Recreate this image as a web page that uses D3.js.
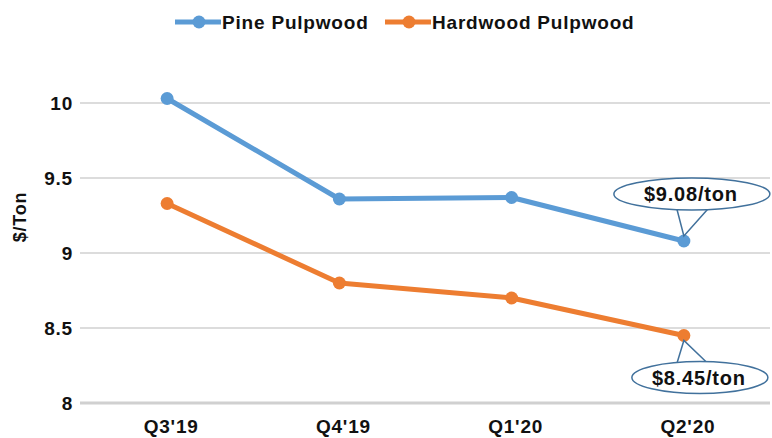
<!DOCTYPE html>
<html>
<head>
<meta charset="utf-8">
<script src="https://cdn.jsdelivr.net/npm/d3@7"></script>
<style>
  html, body { margin: 0; padding: 0; background: #fff; }
  svg text { font-family: "Liberation Sans", Arial, sans-serif; font-weight: bold; fill: #111; letter-spacing: 0.8px; }
</style>
</head>
<body>
<div id="chart"></div>
<script>
const categories = ["Q3'19", "Q4'19", "Q1'20", "Q2'20"];
const pine = [10.03, 9.36, 9.37, 9.08];
const hardwood = [9.33, 8.80, 8.70, 8.45];
const yTicks = [8, 8.5, 9, 9.5, 10];
const seriesNames = ["Pine Pulpwood", "Hardwood Pulpwood"];
const colors = ["#5b9bd5", "#ed7d31"];

const width = 772, height = 438;

const svg = d3.select('#chart').append('svg')
  .attr('width', width)
  .attr('height', height);

// scales
const x = d3.scaleBand().domain(categories).range([81, 770]);
const cx = d => x(d) + x.bandwidth() / 2;
const y = d3.scaleLinear().domain([8, 10]).range([403, 103]);

// gridlines
svg.append('g')
  .selectAll('line')
  .data(yTicks)
  .enter().append('line')
  .attr('x1', 80).attr('x2', 770)
  .attr('y1', d => y(d)).attr('y2', d => y(d))
  .attr('stroke', d => d === 8 ? '#d0d0d0' : '#dcdcdc')
  .attr('stroke-width', d => d === 8 ? 3 : 2);

// y axis
const yAxis = svg.append('g')
  .attr('transform', 'translate(73,0)')
  .call(d3.axisLeft(y).tickValues(yTicks).tickSize(0).tickPadding(0).tickFormat(d3.format('')));
yAxis.select('.domain').remove();
yAxis.selectAll('text')
  .style('font-size', '19px')
  .style('font-family', '"Liberation Sans", Arial, sans-serif')
  .attr('dy', '0.36em');

svg.append('text')
  .attr('transform', 'translate(26,217) rotate(-90)')
  .attr('text-anchor', 'middle')
  .style('font-size', '18px')
  .text('$/Ton');

// x axis
const xAxis = svg.append('g')
  .attr('transform', 'translate(4,419)')
  .call(d3.axisBottom(x).tickSize(0).tickPadding(0));
xAxis.select('.domain').remove();
xAxis.selectAll('text')
  .style('font-size', '19px')
  .style('font-family', '"Liberation Sans", Arial, sans-serif')
  .attr('dy', '0.71em');

// lines
const series = [pine, hardwood];
const line = d3.line()
  .x((d, i) => cx(categories[i]))
  .y(d => y(d));

series.forEach((vals, s) => {
  svg.append('path')
    .datum(vals)
    .attr('fill', 'none')
    .attr('stroke', colors[s])
    .attr('stroke-width', 5)
    .attr('stroke-linejoin', 'round')
    .attr('d', line);
  svg.append('g')
    .selectAll('circle')
    .data(vals)
    .enter().append('circle')
    .attr('cx', (d, i) => cx(categories[i]))
    .attr('cy', d => y(d))
    .attr('r', 6.5)
    .attr('fill', colors[s]);
});

// legend
const legendX = [175, 385];
seriesNames.forEach((name, s) => {
  const g = svg.append('g').attr('transform', `translate(${legendX[s]},22)`);
  g.append('line').attr('x1', 0).attr('x2', 46)
    .attr('stroke', colors[s]).attr('stroke-width', 5);
  g.append('circle').attr('cx', 24).attr('r', 6.5).attr('fill', colors[s]);
  g.append('text').attr('x', 47).attr('y', 7)
    .style('font-size', '19px')
    .text(name);
});

// callouts
function callout(val, idx, dx, dy, rx, label, up) {
  const px = cx(categories[idx]), py = y(val);
  const ex = px + dx, ey = py + dy;
  const g = svg.append('g');
  const edge = up ? ey + 15 : ey - 14;
  g.append('path')
    .attr('d', `M${px - 7},${edge} L${px},${py + (up ? -5 : 5)} L${px + 24},${edge}`)
    .attr('fill', '#fff')
    .attr('stroke', '#41719c')
    .attr('stroke-width', 1.5);
  g.append('ellipse')
    .attr('cx', ex).attr('cy', ey)
    .attr('rx', rx).attr('ry', 16)
    .attr('fill', '#fff')
    .attr('stroke', '#41719c')
    .attr('stroke-width', 1.5);
  // cover the join between tail and ellipse
  g.append('path')
    .attr('d', `M${px - 6},${edge + (up ? -3 : 3)} L${px + 23},${edge + (up ? -3 : 3)}`)
    .attr('stroke', '#fff').attr('stroke-width', 4);
  g.append('text')
    .attr('x', ex - 1).attr('y', ey + 7)
    .attr('text-anchor', 'middle')
    .style('font-size', '20px')
    .text(label);
}
callout(pine[3], 3, 8, -47, 78, '$9.08/ton', true);
callout(hardwood[3], 3, 16, 42, 68, '$8.45/ton', false);
</script>
</body>
</html>
